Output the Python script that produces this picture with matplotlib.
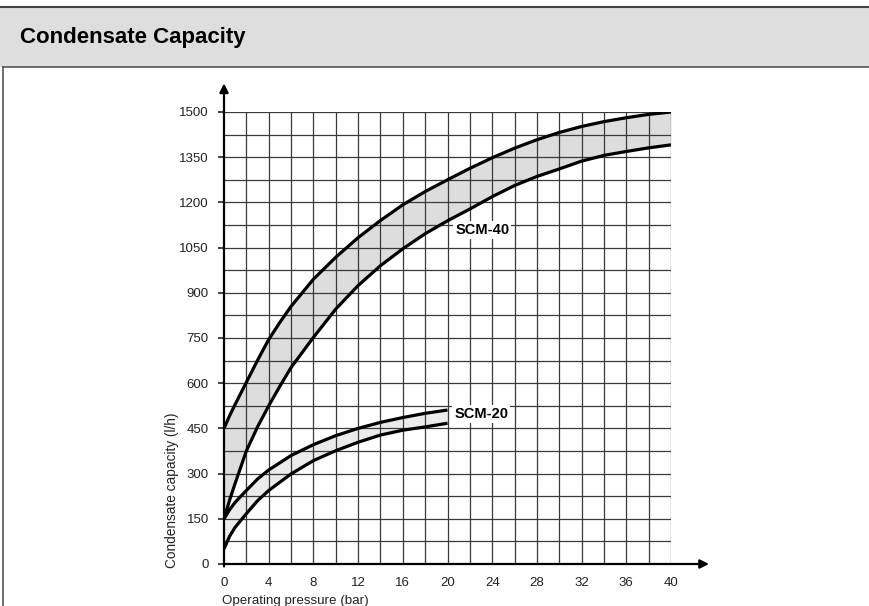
import matplotlib
matplotlib.use("Agg")
import matplotlib.pyplot as plt
from matplotlib.patches import Rectangle
from matplotlib.lines import Line2D

plt.rcParams['font.family'] = ['Liberation Sans', 'DejaVu Sans']

## Data ##
pressure_40 = [0, 0.5, 1, 2, 3, 4, 5, 6, 8, 10, 12, 14, 16, 18, 20,
               22, 24, 26, 28, 30, 32, 34, 36, 38, 40]
scm40_upper = [450, 492, 530, 603, 676, 745, 802, 855, 945, 1018, 1083, 1140, 1192, 1236, 1275,
               1313, 1348, 1380, 1408, 1432, 1452, 1468, 1481, 1492, 1500]
scm40_lower = [150, 212, 268, 375, 455, 525, 590, 652, 752, 846, 924, 990, 1046, 1096, 1139,
               1178, 1219, 1256, 1286, 1311, 1337, 1356, 1369, 1381, 1391]

pressure_20 = [0, 0.5, 1, 2, 3, 4, 6, 8, 10, 12, 14, 16, 18, 20]
scm20_upper = [150, 180, 205, 244, 282, 312, 360, 396, 426, 450, 470, 486, 500, 511]
scm20_lower = [50, 92, 122, 167, 210, 244, 299, 343, 376, 404, 428, 444, 455, 467]

x_ticks = [0, 4, 8, 12, 16, 20, 24, 28, 32, 36, 40]
y_ticks = [0, 150, 300, 450, 600, 750, 900, 1050, 1200, 1350, 1500]

## Figure and header ##
W, H = 869, 606
fig = plt.figure(figsize=(W / 100, H / 100), dpi=100)

fig.patches.append(Rectangle((0, 1 - 67 / H), 1, 59 / H, transform=fig.transFigure,
                             facecolor='#dedede', edgecolor='none', zorder=0))
fig.lines.append(Line2D([0, 1], [1 - 7 / H, 1 - 7 / H], transform=fig.transFigure,
                        color='#444444', lw=1.5))
fig.lines.append(Line2D([3 / W, 1], [1 - 67 / H, 1 - 67 / H], transform=fig.transFigure,
                        color='#555555', lw=1.2))
fig.lines.append(Line2D([3 / W, 3 / W], [0, 1 - 67 / H], transform=fig.transFigure,
                        color='#555555', lw=1.2))
fig.text(20 / W, 1 - 38 / H, "Condensate Capacity", fontsize=16, fontweight='bold',
         va='center', ha='left')

## Plot area ##
ax = fig.add_axes([224 / W, 42 / H, 447 / W, 452 / H])
ax.set_xlim(0, 40)
ax.set_ylim(0, 1500)
for s in ax.spines.values():
    s.set_visible(False)

# grid (every 2 bar / 75 l/h)
for gx in range(2, 41, 2):
    ax.plot([gx, gx], [0, 1500], color='#3a3a3a', lw=0.9, zorder=2)
for gy in range(75, 1501, 75):
    ax.plot([0, 40], [gy, gy], color='#3a3a3a', lw=0.9, zorder=2)

# bands
ax.fill_between(pressure_40, scm40_lower, scm40_upper, color='#dddddd', lw=0, zorder=1)
ax.fill_between(pressure_20, scm20_lower, scm20_upper, color='#ebebeb', lw=0, zorder=1)

# curves
for xs, ys in [(pressure_40, scm40_upper), (pressure_40, scm40_lower),
               (pressure_20, scm20_upper), (pressure_20, scm20_lower)]:
    ax.plot(xs, ys, color='black', lw=2.3, solid_capstyle='butt', zorder=3)

# labels for the bands
box = dict(facecolor='white', edgecolor='none', pad=1.5)
ax.text(20.7, 1108, "SCM-40", fontsize=10.5, fontweight='bold', va='center', ha='left',
        bbox=box, zorder=4)
ax.text(20.6, 498, "SCM-20", fontsize=10.5, fontweight='bold', va='center', ha='left',
        bbox=box, zorder=4)

# axes with arrows
ax.annotate('', xy=(43.4, 0), xytext=(0, 0), annotation_clip=False,
            arrowprops=dict(arrowstyle='-|>', color='black', lw=1.6, mutation_scale=13,
                            shrinkA=0, shrinkB=0), zorder=5)
ax.annotate('', xy=(0, 1595), xytext=(0, -8), annotation_clip=False,
            arrowprops=dict(arrowstyle='-|>', color='black', lw=1.6, mutation_scale=13,
                            shrinkA=0, shrinkB=0), zorder=5)

ax.set_xticks(x_ticks)
ax.set_yticks(y_ticks)
ax.set_xticklabels([str(v) for v in x_ticks])
ax.set_yticklabels([str(v) for v in y_ticks])
ax.tick_params(axis='y', length=4, width=1.2, pad=7, labelsize=9.5, colors='#222222')
ax.tick_params(axis='x', length=0, pad=9, labelsize=9.5, colors='#222222')

fig.text(172 / W, 1 - 490 / H, "Condensate capacity (l/h)", rotation=90, fontsize=9.8,
         ha='center', va='center', color='#222222')
fig.text(222 / W, 1 - 601 / H, "Operating pressure (bar)", fontsize=9.6,
         ha='left', va='center', color='#222222')

fig.savefig("out.png", dpi=100)
